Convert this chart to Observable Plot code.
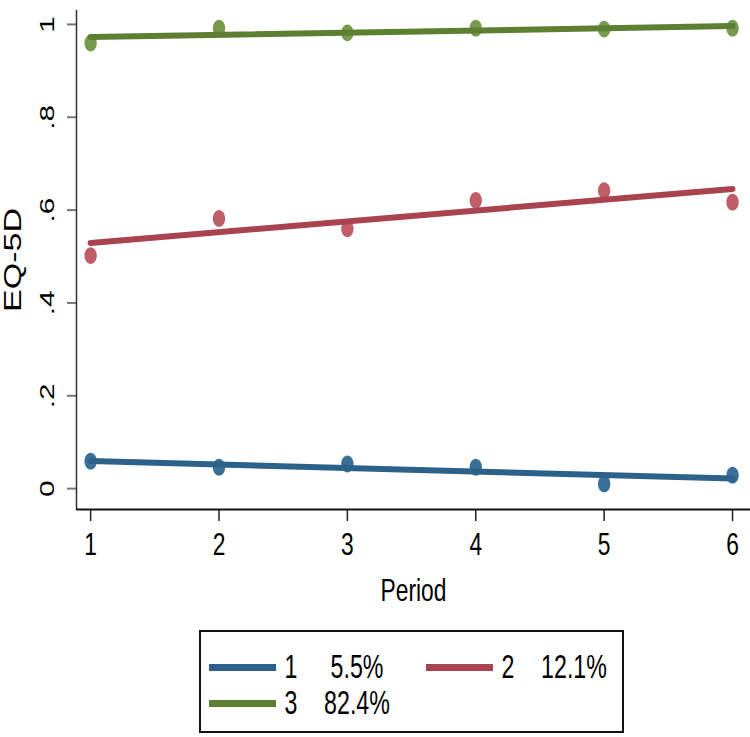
<!DOCTYPE html>
<html>
<head>
<meta charset="utf-8">
<script src="https://cdn.jsdelivr.net/npm/d3@7"></script>
<script src="https://cdn.jsdelivr.net/npm/@observablehq/plot@0.6"></script>
<style>
  body { margin: 0; background: #fff; }
  #legend {
    position: relative; box-sizing: border-box;
    margin-left: 199px; margin-top: 15px;
    width: 425px; height: 103px; border: 2px solid #111;
    font-family: "Liberation Sans", Arial, sans-serif; font-size: 29px; color: #000;
  }
  .sw { position: absolute; width: 67px; height: 7px; }
  .num, .share { position: absolute; transform: translate(-50%, -50%) scale(0.8, 1.12); white-space: nowrap; line-height: 1; }
</style>
</head>
<body>
<div id="chart"></div>
<div id="legend"></div>
<script>
const periods = [1, 2, 3, 4, 5, 6];
const classes = ["1", "2", "3"];
const shares = ["5.5%", "12.1%", "82.4%"];
const eq5d1 = [0.059, 0.046, 0.053, 0.046, 0.010, 0.029];
const eq5d2 = [0.502, 0.582, 0.560, 0.621, 0.642, 0.617];
const eq5d3 = [0.960, 0.992, 0.982, 0.992, 0.990, 0.992];
const yTicks = [0, 0.2, 0.4, 0.6, 0.8, 1];
const yTickLabels = ["0", ".2", ".4", ".6", ".8", "1"];
const xDomain = [0.89, 6.14];
const yDomain = [-0.045, 1.03];

const lineColors = ["#2c6189", "#a9434f", "#5d7f31"];
const markColors = ["#3a6f98", "#bf5e69", "#789a4e"];
const seriesValues = [eq5d1, eq5d2, eq5d3];

const series = classes.map((c, k) =>
  periods.map((p, i) => ({period: p, eq5d: seriesValues[k][i], cls: c}))
);

const ellipse = {
  draw(ctx, size) {
    const r = Math.sqrt(size / Math.PI);
    const rx = r * 0.88, ry = r * 1.2, k = 0.5523;
    ctx.moveTo(rx, 0);
    ctx.bezierCurveTo(rx, k * ry, k * rx, ry, 0, ry);
    ctx.bezierCurveTo(-k * rx, ry, -rx, k * ry, -rx, 0);
    ctx.bezierCurveTo(-rx, -k * ry, -k * rx, -ry, 0, -ry);
    ctx.bezierCurveTo(k * rx, -ry, rx, -k * ry, rx, 0);
    ctx.closePath();
  }
};

const marks = [];
series.forEach((data, k) => {
  marks.push(Plot.dot(data, {x: "period", y: "eq5d", r: 7, symbol: ellipse, fill: markColors[k], stroke: "none"}));
});
series.forEach((data, k) => {
  marks.push(Plot.linearRegressionY(data, {x: "period", y: "eq5d", stroke: lineColors[k], strokeWidth: 6, ci: 0, strokeLinecap: "round"}));
});

const svg = Plot.plot({
  width: 750,
  height: 615,
  marginLeft: 76,
  marginRight: 0,
  marginTop: 10,
  marginBottom: 106,
  style: {fontFamily: "'Liberation Sans', Arial, sans-serif", fontSize: "30px", color: "#000", background: "#fff"},
  x: {domain: xDomain},
  y: {domain: yDomain},
  marks: [
    Plot.axisY(yTicks, {tickSize: 9, tickFormat: () => "", stroke: "#777", strokeWidth: 2, label: null}),
    Plot.axisX(periods, {tickSize: 12, tickPadding: 11, tickFormat: d => String(d), stroke: "#222", strokeWidth: 1.5, label: null, fill: "#000"}),
    Plot.ruleX([xDomain[0]], {stroke: "#333", strokeWidth: 1.5}),
    Plot.ruleY([yDomain[0]], {stroke: "#111", strokeWidth: 2}),
    Plot.text(yTicks, {y: d => d, text: (d, i) => yTickLabels[i], frameAnchor: "left", dx: -29, rotate: -90, textAnchor: "middle", lineAnchor: "middle", fontSize: 21, fill: "#000"}),
    Plot.text(["EQ-5D"], {frameAnchor: "left", dx: -63, rotate: -90, textAnchor: "middle", lineAnchor: "middle", fontSize: 24, fill: "#000"}),
    Plot.text(["Period"], {frameAnchor: "bottom", dy: 81, textAnchor: "middle", lineAnchor: "middle", fontSize: 30, fill: "#000"}),
    ...marks
  ]
});
document.getElementById("chart").appendChild(svg);

// mimic the reference's stretched aspect: rotated texts longer, horizontal texts narrower
d3.select(svg).selectAll("text").each(function() {
  const t = this.getAttribute("transform") || "";
  if (t.includes("rotate(-90)")) this.setAttribute("transform", t + " scale(1.42,1)");
  else if (t) this.setAttribute("transform", t + " scale(0.76,1.05)");
});

// legend
const legend = document.getElementById("legend");
classes.forEach((c, i) => {
  const col = i % 2, row = Math.floor(i / 2);
  const left = 8 + col * 217;
  const cy = 35 + row * 36;
  const sw = document.createElement("div");
  sw.className = "sw";
  sw.style.left = left + "px";
  sw.style.top = (cy - 3.5) + "px";
  sw.style.background = lineColors[i];
  legend.appendChild(sw);
  const num = document.createElement("span");
  num.className = "num";
  num.style.left = (left + 82) + "px";
  num.style.top = cy + "px";
  num.textContent = c;
  legend.appendChild(num);
  const sh = document.createElement("span");
  sh.className = "share";
  sh.style.left = (left + 148) + "px";
  sh.style.top = cy + "px";
  sh.textContent = shares[i];
  legend.appendChild(sh);
});
</script>
</body>
</html>
